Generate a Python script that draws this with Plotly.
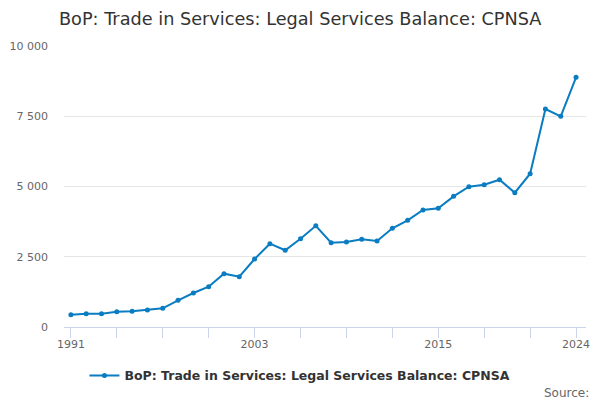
import plotly.graph_objects as go

years = list(range(1991, 2025))
values = [440, 473, 470, 545, 558, 605, 665, 950, 1210, 1435,
          1897, 1790, 2420, 2965, 2730, 3142, 3600, 3000, 3025, 3120,
          3060, 3512, 3797, 4164, 4223, 4650, 4993, 5064, 5242, 4779,
          5456, 7758, 7498, 8886]

series_name = "BoP: Trade in Services: Legal Services Balance: CPNSA"
title_text = "BoP: Trade in Services: Legal Services Balance: CPNSA"
x_tick_vals = list(range(1991, 2025, 3))
x_tick_labelled = [1991, 2003, 2015, 2024]
x_tick_text = [str(v) if v in x_tick_labelled else "" for v in x_tick_vals]
y_tick_vals = [0, 2500, 5000, 7500, 10000]

line_color = "#0a7cc1"
font_family = "DejaVu Sans"

fig = go.Figure()
fig.add_trace(go.Scatter(
    x=years, y=values, name=series_name, mode="lines+markers",
    line=dict(color=line_color, width=2),
    marker=dict(color=line_color, size=5),
))

fig.update_layout(
    width=600, height=400,
    margin=dict(l=56, r=22, t=38, b=81, autoexpand=False),
    paper_bgcolor="white", plot_bgcolor="white",
    separators=". ",
    font=dict(family=font_family, color="#666666", size=11),
    title=dict(text=title_text, x=0.487, xanchor="center", xref="container", y=0.974, yanchor="middle",
               font=dict(family=font_family, size=17.7, color="#333333")),
    showlegend=True,
    legend=dict(orientation="h", x=0.452, xanchor="center", y=-0.174, yanchor="middle",
                font=dict(family=font_family, size=12.5, color="#333333", weight="bold"),
                itemwidth=30),
    annotations=[dict(text="Source:", x=1.0096, xref="paper", xanchor="right",
                      y=-0.235, yref="paper", yanchor="middle", showarrow=False,
                      font=dict(family=font_family, size=12, color="#666666"))],
)

fig.update_xaxes(
    range=[1990.55, 2024.65], automargin=False,
    tickmode="array", tickvals=x_tick_vals, ticktext=x_tick_text,
    ticks="outside", ticklen=10, tickcolor="#ccd6eb", tickwidth=1,
    ticklabelstandoff=-3,
    showline=True, linecolor="#ccd6eb", linewidth=1,
    showgrid=False, zeroline=False,
    tickfont=dict(size=11, color="#666666"),
)
fig.update_yaxes(
    range=[0, 10000], automargin=False,
    tickmode="array", tickvals=y_tick_vals,
    tickformat=",d",
    showgrid=True, gridcolor="#e6e6e6", gridwidth=1,
    zeroline=False, showline=False, ticks="", ticklabelstandoff=15,
    tickfont=dict(size=11, color="#666666"),
)

fig.write_html("out.html")
